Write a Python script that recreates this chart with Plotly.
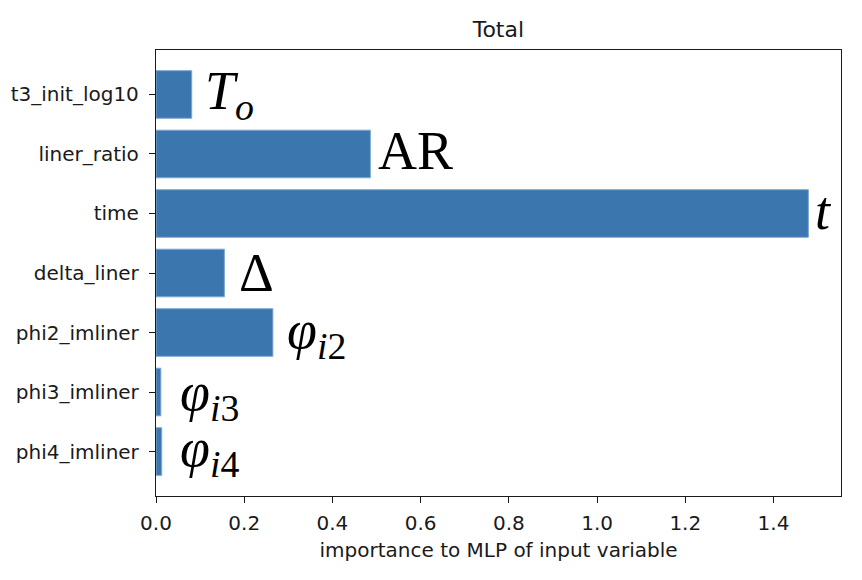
import plotly.graph_objects as go

# Data
variables = ["t3_init_log10", "liner_ratio", "time", "delta_liner",
             "phi2_imliner", "phi3_imliner", "phi4_imliner"]
importance = [0.081, 0.486, 1.479, 0.155, 0.265, 0.011, 0.013]
symbols = ["<i>T</i><sub><i>o</i></sub>", "AR", "<i>t</i>", "Δ",
           "<i>φ</i><sub><i>i</i>2</sub>", "<i>φ</i><sub><i>i</i>3</sub>",
           "<i>φ</i><sub><i>i</i>4</sub>"]

# label styling (pixel nudges)
label_xshift = [11, 6, 5, 13, 12, 17, 16]
label_yshift = [0, 3, 2, 0, -1, -3, 0]

BAR = "#3c76af"
INK = "#1a1a1a"

# page has an 8px body margin; size the figure so the plot lands where the reference has it
W, H = 854, 572
L, T = 147.5, 41.5
R = W - (841.3 - 8)
B = H - (496 - 8)

fig = go.Figure()
fig.add_trace(go.Bar(
    x=importance, y=variables, orientation="h",
    marker=dict(color=BAR, line=dict(color="#7ea8d2", width=1)),
    width=0.8,
))

for v, val, s, dx, dy in zip(variables, importance, symbols, label_xshift, label_yshift):
    fig.add_annotation(
        x=val, y=v, xref="x", yref="y", text=s, showarrow=False,
        xanchor="left", yanchor="middle", xshift=dx, yshift=dy,
        font=dict(family="Liberation Serif", size=54, color="black"),
    )

fig.update_layout(
    width=W, height=H,
    margin=dict(l=L, r=R, t=T, b=B, autoexpand=False),
    paper_bgcolor="white", plot_bgcolor="white",
    showlegend=False,
    title=dict(text="Total", x=(L + (W - R)) / 2 / W, xanchor="center",
               y=1 - 21 / H, yanchor="middle", yref="container",
               font=dict(family="DejaVu Sans", size=22, color=INK)),
    font=dict(family="DejaVu Sans", size=20, color=INK),
)

fig.update_xaxes(
    range=[0, 1.553], tickvals=[0, 0.2, 0.4, 0.6, 0.8, 1.0, 1.2, 1.4],
    ticktext=["0.0", "0.2", "0.4", "0.6", "0.8", "1.0", "1.2", "1.4"],
    showgrid=False, zeroline=False,
    showline=True, linecolor=INK, linewidth=1.3, mirror=True,
    ticks="outside", ticklen=6, tickwidth=1.3, tickcolor=INK,
    ticklabelstandoff=3,
    tickfont=dict(family="DejaVu Sans", size=20, color=INK),
    title=dict(text="importance to MLP of input variable", standoff=8,
               font=dict(family="DejaVu Sans", size=20, color=INK)),
)
fig.update_yaxes(
    type="category", categoryorder="array", categoryarray=variables,
    range=[6.747, -0.747],
    showgrid=False, zeroline=False,
    showline=True, linecolor=INK, linewidth=1.3, mirror=True,
    ticks="outside", ticklen=6, tickwidth=1.3, tickcolor=INK,
    ticklabelstandoff=6,
    tickfont=dict(family="DejaVu Sans", size=20, color=INK),
)

fig.write_html("out.html")
